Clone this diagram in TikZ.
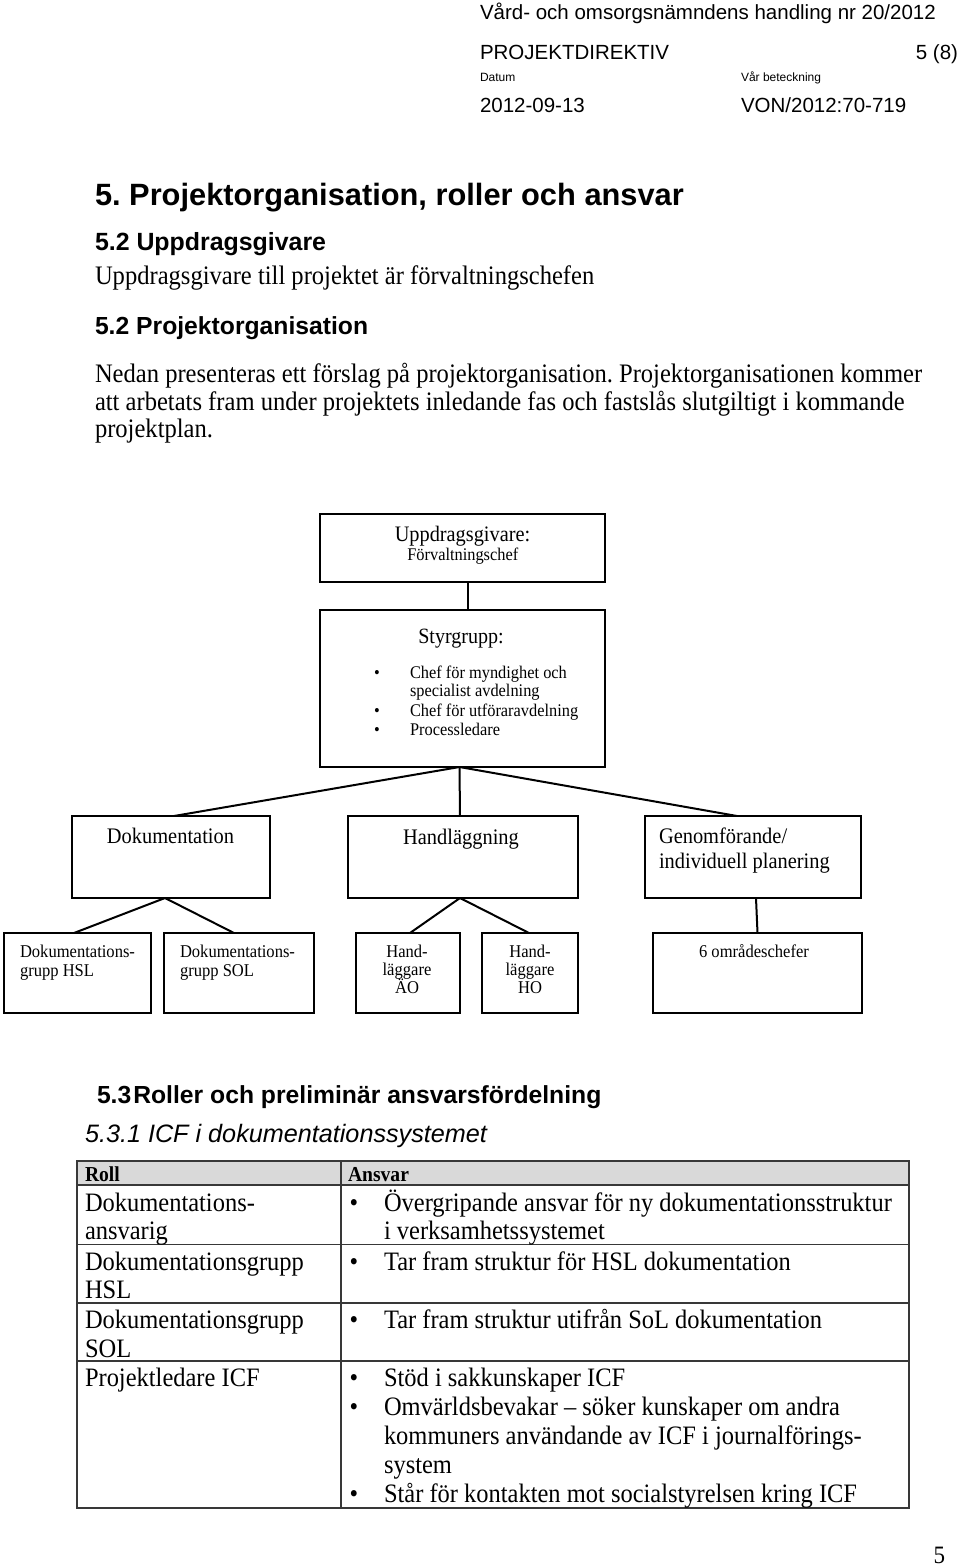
\documentclass[tikz,border=0pt]{standalone}
\usepackage{fontspec}
\setmainfont{Liberation Serif}[FakeStretch=0.92]
\newfontfamily\hv{Liberation Sans}
\newcommand\fsz[1]{\fontsize{#1}{#1}\selectfont}
\begin{document}
\frenchspacing
\begin{tikzpicture}[x=1pt,y=-1pt,
  box/.style={draw,line width=2pt,inner sep=0pt,outer sep=0pt},
  link/.style={line width=2pt},
  txt/.style={inner sep=0pt,outer sep=0pt,anchor=base west},
  ctxt/.style={inner sep=0pt,outer sep=0pt,anchor=base},
  rtxt/.style={inner sep=0pt,outer sep=0pt,anchor=base east},
  head/.style={txt,font=\hv\fsz{20.5}},
  body/.style={txt,font=\fsz{26.7}},
  tab/.style={txt,font=\fsz{26.6}},
  tline/.style={line width=1.5pt,draw=black!78}]
\useasboundingbox[fill=white] (0,0) rectangle (960,1568);

% ---------- header ----------
\node[head] (h1) at (480,20) {Vård- och omsorgsnämndens handling nr 20/2012};
\node[head] (h2) at (480,60) {PROJEKTDIREKTIV};
\node[rtxt,font=\hv\fsz{20.5}] (h3) at (958,60) {5 (8)};
\node[txt,font=\hv\fsz{12}] (h4) at (480,82) {Datum};
\node[txt,font=\hv\fsz{12}] (h5) at (741,82) {Vår beteckning};
\node[head] (h6) at (480,113) {2012-09-13};
\node[head] (h7) at (741,113) {VON/2012:70-719};

% ---------- headings and text ----------
\node[txt,font=\hv\bfseries\fsz{30.8}] (t1) at (95,205) {5. Projektorganisation, roller och ansvar};
\node[txt,font=\hv\bfseries\fsz{24.9}] (t2) at (95,250) {5.2 Uppdragsgivare};
\node[body] (p1) at (95,284) {Uppdragsgivare till projektet är förvaltningschefen};
\node[txt,font=\hv\bfseries\fsz{24.7}] (t3) at (95,334) {5.2 Projektorganisation};
\node[body] (p2) at (95,382) {Nedan presenteras ett förslag på projektorganisation. Projektorganisationen kommer};
\node[body] (p3) at (95,410) {att arbetats fram under projektets inledande fas och fastslås slutgiltigt i kommande};
\node[body] (p4) at (95,437) {projektplan.};

% ---------- org chart boxes ----------
\node[box,minimum width=285pt,minimum height=68pt] (upp) at (462.5,548) {};
\node[box,minimum width=285pt,minimum height=157pt] (sty) at (462.5,688.5) {};
\node[box,minimum width=198pt,minimum height=82pt] (dok) at (171,857) {};
\node[box,minimum width=230pt,minimum height=82pt] (hand) at (463,857) {};
\node[box,minimum width=216pt,minimum height=82pt] (gen) at (753,857) {};
\node[box,minimum width=147pt,minimum height=80pt] (hsl) at (77.5,973) {};
\node[box,minimum width=150pt,minimum height=80pt] (sol) at (239,973) {};
\node[box,minimum width=104pt,minimum height=80pt] (ao) at (408,973) {};
\node[box,minimum width=96pt,minimum height=80pt] (ho) at (530,973) {};
\node[box,minimum width=209pt,minimum height=80pt] (omr) at (757.5,973) {};

% ---------- org chart texts ----------
\node[ctxt,font=\fsz{22.1}] (uppa) at (462.5,541) {Uppdragsgivare:};
\node[ctxt,font=\fsz{17.8}] (uppb) at (462.8,560.7) {Förvaltningschef};
\node[ctxt,font=\fsz{21.8}] (stya) at (461,643) {Styrgrupp:};
\node[ctxt,font=\fsz{17.8}] (b1) at (377,678) {\textbullet};
\node[ctxt,font=\fsz{17.8}] (b2) at (377,716) {\textbullet};
\node[ctxt,font=\fsz{17.8}] (b3) at (377,735) {\textbullet};
\node[txt,font=\fsz{17.8}] (i1) at (410,678) {Chef för myndighet och};
\node[txt,font=\fsz{17.8}] (i1b) at (410,696) {specialist avdelning};
\node[txt,font=\fsz{17.8}] (i2) at (410,716) {Chef för utföraravdelning};
\node[txt,font=\fsz{17.8}] (i3) at (410,735) {Processledare};

\node[ctxt,font=\fsz{22.2}] (doka) at (170.5,843) {Dokumentation};
\node[ctxt,font=\fsz{22.2}] (handa) at (461,844) {Handläggning};
\node[txt,font=\fsz{22.2}] (gena) at (659,843) {Genomförande/};
\node[txt,font=\fsz{22.2}] (genb) at (659,868) {individuell planering};

\node[txt,font=\fsz{18}] (hsla) at (20,957) {Dokumentations-};
\node[txt,font=\fsz{18}] (hslb) at (20,976) {grupp HSL};
\node[txt,font=\fsz{18}] (sola) at (180,957) {Dokumentations-};
\node[txt,font=\fsz{18}] (solb) at (180,976) {grupp SOL};
\node[ctxt,font=\fsz{18}] (aoa) at (407,957) {Hand-};
\node[ctxt,font=\fsz{18}] (aob) at (407,975) {läggare};
\node[ctxt,font=\fsz{18}] (aoc) at (407,993) {ÄO};
\node[ctxt,font=\fsz{18}] (hoa) at (530,957) {Hand-};
\node[ctxt,font=\fsz{18}] (hob) at (530,975) {läggare};
\node[ctxt,font=\fsz{18}] (hoc) at (530,993) {HO};
\node[ctxt,font=\fsz{18}] (omra) at (754,957) {6 områdeschefer};

% ---------- org chart connectors ----------
\draw[link] ([xshift=5.5pt]upp.south) -- ([xshift=5.5pt]sty.north);
\draw[link] ([xshift=-3pt]sty.south) -- ([xshift=3pt]dok.north);
\draw[link] ([xshift=-3pt]sty.south) -- ([xshift=-3pt]hand.north);
\draw[link] ([xshift=-3pt]sty.south) -- ([xshift=-16pt]gen.north);
\draw[link] ([xshift=-6pt]dok.south) -- ([xshift=-3.5pt]hsl.north);
\draw[link] ([xshift=-6pt]dok.south) -- ([xshift=-5pt]sol.north);
\draw[link] ([xshift=-3pt]hand.south) -- ([xshift=2pt]ao.north);
\draw[link] ([xshift=-3pt]hand.south) -- ([xshift=-1pt]ho.north);
\draw[link] ([xshift=3pt]gen.south) -- (omr.north);

% ---------- section 5.3 ----------
\node[txt,font=\hv\bfseries\fsz{24.7}] (t4) at (97,1103) {5.3\kern2pt Roller och preliminär ansvarsfördelning};
\node[txt,font=\hv\itshape\fsz{25.2}] (t5) at (85,1142) {5.3.1 ICF i dokumentationssystemet};

% ---------- table ----------
\fill[black!15] (77,1161) rectangle (909,1185);
\draw[tline] (77,1161) rectangle (909,1508);
\foreach \yy in {1185,1244.5,1303,1361} \draw[tline] (77,\yy) -- (909,\yy);
\draw[tline] (341,1161) -- (341,1508);

\node[txt,font=\bfseries\fsz{21.3}] (rh1) at (85,1181) {Roll};
\node[txt,font=\bfseries\fsz{21.3}] (rh2) at (348,1181) {Ansvar};

\node[tab] (r1a) at (85,1211) {Dokumentations-};
\node[tab] (r1b) at (85,1239.5) {ansvarig};
\node[tab] (r2a) at (85,1270) {Dokumentationsgrupp};
\node[tab] (r2b) at (85,1298.5) {HSL};
\node[tab] (r3a) at (85,1328.5) {Dokumentationsgrupp};
\node[tab] (r3b) at (85,1357) {SOL};
\node[tab] (r4a) at (85,1386) {Projektledare ICF};

\node[ctxt,font=\fsz{26.6}] (tb1) at (354,1211) {\textbullet};
\node[ctxt,font=\fsz{26.6}] (tb2) at (354,1270) {\textbullet};
\node[ctxt,font=\fsz{26.6}] (tb3) at (354,1328.5) {\textbullet};
\node[ctxt,font=\fsz{26.6}] (tb4) at (354,1386) {\textbullet};
\node[ctxt,font=\fsz{26.6}] (tb5) at (354,1415) {\textbullet};
\node[ctxt,font=\fsz{26.6}] (tb6) at (354,1502) {\textbullet};

\node[tab] (a1a) at (384,1211) {Övergripande ansvar för ny dokumentationsstruktur};
\node[tab] (a1b) at (384,1239.5) {i verksamhetssystemet};
\node[tab] (a2) at (384,1270) {Tar fram struktur för HSL dokumentation};
\node[tab] (a3) at (384,1328.5) {Tar fram struktur utifrån SoL dokumentation};
\node[tab] (a4a) at (384,1386) {Stöd i sakkunskaper ICF};
\node[tab] (a4b) at (384,1415) {Omvärldsbevakar – söker kunskaper om andra};
\node[tab] (a4c) at (384,1444) {kommuners användande av ICF i journalförings-};
\node[tab] (a4d) at (384,1473) {system};
\node[tab] (a4e) at (384,1502) {Står för kontakten mot socialstyrelsen kring ICF};

% ---------- page number ----------
\node[rtxt,font=\fsz{25}] (pn) at (945,1563) {5};
\end{tikzpicture}
\end{document}
